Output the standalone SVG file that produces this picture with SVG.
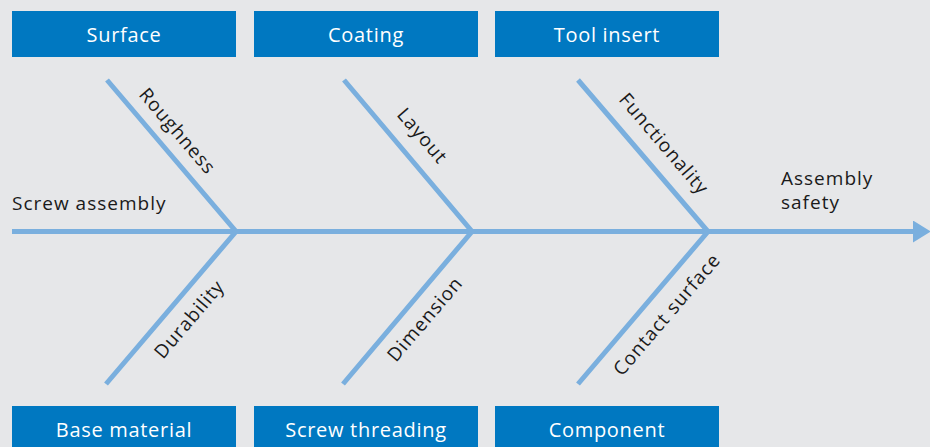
<svg xmlns="http://www.w3.org/2000/svg" width="930" height="447" viewBox="0 0 930 447">
<style>
.box{fill:#0078c1}
.bt{fill:#ffffff;font-family:"Open Sans",sans-serif;font-size:20px;letter-spacing:0.7px;text-anchor:middle}
.lbl{fill:#1a1a1a;font-family:"Open Sans",sans-serif;font-size:19px;letter-spacing:1px}
.ln{stroke:#7aafde;stroke-width:5;fill:none;stroke-linecap:butt}
</style>
<defs>
<marker id="ah" markerUnits="userSpaceOnUse" markerWidth="18" markerHeight="22" refX="0" refY="11" orient="auto">
<path d="M0,0 L18,11 L0,22 Z" fill="#7aafde"/>
</marker>
</defs>
<rect width="930" height="447" fill="#e6e7e9"/>
<g id="connectors">
<line class="ln" x1="12" y1="231.5" x2="913" y2="231.5" marker-end="url(#ah)"/>
<polyline class="ln" points="107,80 236,231.5 106,384"/>
<polyline class="ln" points="344,80 472,231.5 343,384"/>
<polyline class="ln" points="578,80 708,231.5 578,384"/>
</g>
<g id="surface"><rect class="box" x="12" y="11" width="224" height="46"/><text class="bt" x="124" y="42">Surface</text></g>
<g id="coating"><rect class="box" x="254" y="11" width="224" height="46"/><text class="bt" x="366" y="42">Coating</text></g>
<g id="tool-insert"><rect class="box" x="495" y="11" width="224" height="46"/><text class="bt" x="607" y="42">Tool insert</text></g>
<g id="base-material"><rect class="box" x="12" y="406" width="224" height="41"/><text class="bt" x="124" y="437">Base material</text></g>
<g id="screw-threading"><rect class="box" x="254" y="406" width="224" height="41"/><text class="bt" x="366" y="437">Screw threading</text></g>
<g id="component"><rect class="box" x="495" y="406" width="224" height="41"/><text class="bt" x="607" y="437">Component</text></g>
<g id="screw-assembly"><text class="lbl" x="12" y="210">Screw assembly</text></g>
<g id="assembly-safety"><text class="lbl" x="781" y="185">Assembly</text><text class="lbl" x="781" y="209">safety</text></g>
<g id="roughness"><text class="lbl" transform="translate(138,95) rotate(49.5)">Roughness</text></g>
<g id="layout"><text class="lbl" transform="translate(396,115) rotate(49.5)">Layout</text></g>
<g id="functionality"><text class="lbl" transform="translate(618,100) rotate(49.5)">Functionality</text></g>
<g id="durability"><text class="lbl" transform="translate(163,360) rotate(-49.5)">Durability</text></g>
<g id="dimension"><text class="lbl" transform="translate(396,363) rotate(-49.5)">Dimension</text></g>
<g id="contact-surface"><text class="lbl" transform="translate(622,377) rotate(-49.5)">Contact surface</text></g>
</svg>
